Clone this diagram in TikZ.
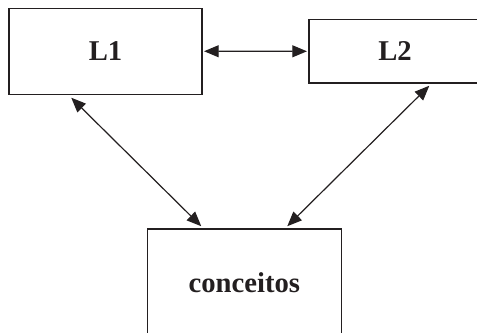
\documentclass[tikz,border=0pt]{standalone}
\usepackage{fontspec}
\setmainfont{Liberation Serif}
\usetikzlibrary{arrows.meta}
\definecolor{ink}{HTML}{231F20}
\begin{document}
\begin{tikzpicture}[x=0.75pt,y=-0.75pt,
  box/.style={draw=ink,line width=1.1pt,inner sep=0pt,font=\fontsize{21.5}{24}\selectfont\bfseries,text=ink},
  arr/.style={draw=ink,line width=0.9pt,{Triangle[length=11pt,width=9pt]}-{Triangle[length=11pt,width=9pt]}}]
\useasboundingbox (0,0) rectangle (477,332);
\node[box,minimum width=144.75pt,minimum height=64.5pt] (L1) at (105.5,51.25) {L1};
\node[box,minimum width=129pt,minimum height=47.6pt] (L2) at (395,51.3) {L2};
\node[box,minimum width=145.5pt,minimum height=80pt,text depth=0pt] (C) at (244.3,282.5) {conceitos};
\draw[arr] ([xshift=1pt]L1.east) -- ([xshift=-1pt]L2.west);
\draw[arr] ([shift={(63,2.75)}]L1.south west) -- ([shift={(54.7,-2.2)}]C.north west);
\draw[arr] ([shift={(121,2)}]L2.south west) -- ([shift={(140.7,-2.2)}]C.north west);
\end{tikzpicture}
\end{document}
